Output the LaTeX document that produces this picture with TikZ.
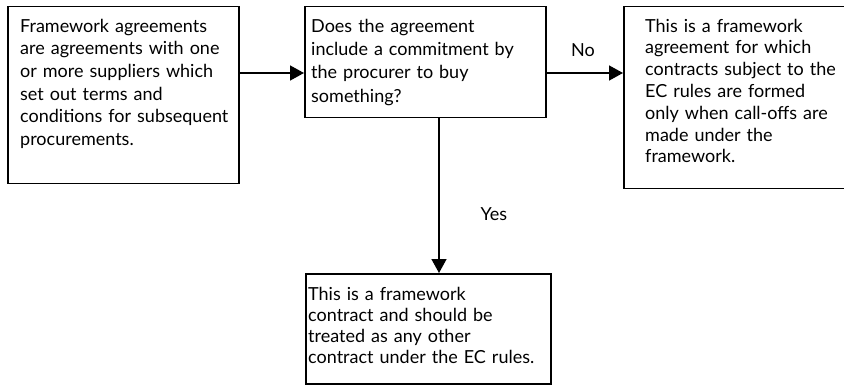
\documentclass[tikz,border=0pt]{standalone}
\usepackage{fontspec}
\setmainfont[WordSpace=1.3]{Lato}
\usetikzlibrary{arrows.meta}
\tikzset{
  box/.style={draw, line width=1.5pt, anchor=north west, inner sep=0pt},
  txt/.style={anchor=north west, inner sep=0pt, align=left,
    font=\fontsize{18}{#1}\selectfont},
  txt/.default=22,
  link/.style={line width=1.5pt, -{Triangle[length=14pt,width=15pt]}},
  lbl/.style={anchor=base, inner sep=0pt, font=\fontsize{18}{22}\selectfont}
}
\begin{document}
\begin{tikzpicture}[x=1pt,y=-1pt]
  \useasboundingbox (0,0) rectangle (844,385);

  % boxes
  \node[box, minimum width=231pt, minimum height=177pt] (A) at (7,6) {};
  \node[box, minimum width=241pt, minimum height=111pt] (B) at (304,6) {};
  \node[box, minimum width=222pt, minimum height=182pt] (C) at (623,6) {};
  \node[box, minimum width=245pt, minimum height=110pt] (D) at (305,273) {};

  % box texts
  \node[txt=22.7] (tA) at ([shift={(13,12.7)}]A.north west)
    {Framework agreements\\are agreements with one\\or more suppliers which\\set out terms and\\conditions for subsequent\\procurements.};
  \node[txt=23.3] (tB) at ([shift={(7,12.7)}]B.north west)
    {Does the agreement\\include a commitment by\\the procurer to buy\\something?};
  \node[txt=21.8] (tC) at ([shift={(22,12.7)}]C.north west)
    {This is a framework\\agreement for which\\contracts subject to the\\EC rules are formed\\only when call-offs are\\made under the\\framework.};
  \node[txt=21] (tD) at ([shift={(3,13.7)}]D.north west)
    {This is a framework\\contract and should be\\treated as any other\\contract under the EC rules.};

  % connector levels
  \coordinate (row) at (0,73);
  \coordinate (col) at (439,0);

  \draw[link] (A.east |- row) -- (B.west |- row);
  \draw[link] (B.east |- row) -- (C.west |- row);
  \draw[link] (B.south -| col) -- (D.north -| col);

  % branch labels
  \node[lbl] (no) at (583,57) {No};
  \node[lbl] (yes) at (494,220) {Yes};
\end{tikzpicture}
\end{document}
